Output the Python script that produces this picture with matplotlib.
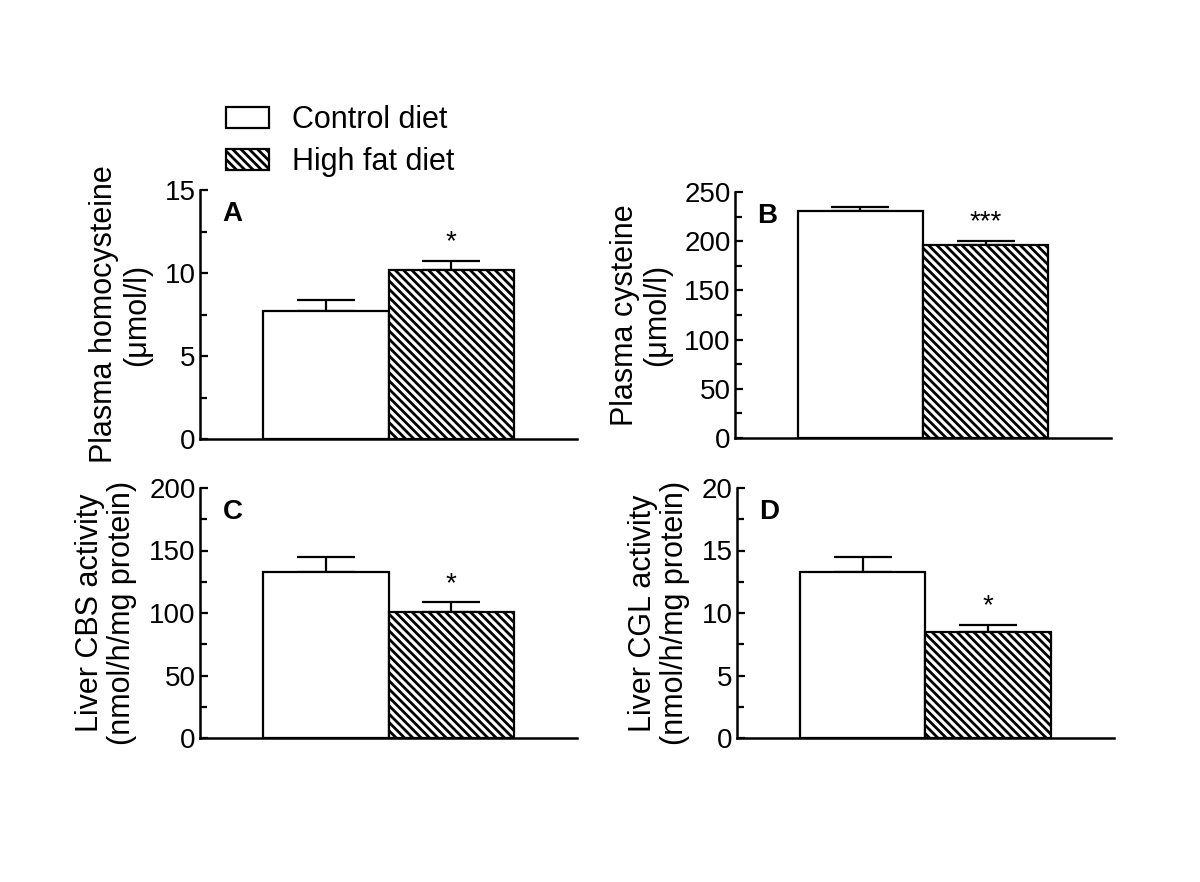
import matplotlib
matplotlib.use("Agg")
import matplotlib.pyplot as plt
import numpy as np

plt.rcParams['font.family'] = ['Liberation Sans', 'DejaVu Sans']
plt.rcParams['hatch.linewidth'] = 2.0

groups = ["Control diet", "High fat diet"]

# panel data: means, SEM, significance mark
hcy_mean = [7.7, 10.18]
hcy_sem = [0.67, 0.54]
cys_mean = [230.7, 196.0]
cys_sem = [4.5, 4.5]
cbs_mean = [132.8, 101.0]
cbs_sem = [11.7, 7.5]
cgl_mean = [13.3, 8.45]
cgl_sem = [1.2, 0.62]

panels = [
    ("A", hcy_mean, hcy_sem, "*", 15, 5, "Plasma homocysteine\n(\u03bcmol/l)"),
    ("B", cys_mean, cys_sem, "***", 250, 50, "Plasma cysteine\n(\u03bcmol/l)"),
    ("C", cbs_mean, cbs_sem, "*", 200, 50, "Liver CBS activity\n(nmol/h/mg protein)"),
    ("D", cgl_mean, cgl_sem, "*", 20, 5, "Liver CGL activity\n(nmol/h/mg protein)"),
]

# axes rectangles in figure fractions (left, bottom, width, height)
rects = [
    (200/1200, 1-439/882, 377/1200, 249/882),
    (735/1200, 1-438/882, 376/1200, 246/882),
    (200/1200, 1-738/882, 377/1200, 250/882),
    (737/1200, 1-738/882, 377/1200, 250/882),
]
# where the y label block ends (axes fraction)
label_x = [-0.128, -0.168, -0.167, -0.125]

fig = plt.figure(figsize=(12, 8.82), dpi=100)

handles = None
for (letter, mean, sem, star, ymax, step, ylabel), r, lx in zip(panels, rects, label_x):
    ax = fig.add_axes(r)
    x = np.array([1, 2])
    b1 = ax.bar(x[0], mean[0], width=1.0, color="white", edgecolor="black",
                linewidth=1.6, zorder=2)
    b2 = ax.bar(x[1], mean[1], width=1.0, color="white", edgecolor="black",
                hatch="\\\\\\\\", linewidth=1.6, zorder=2)
    if handles is None:
        handles = [b1, b2]
    for xi, m, s in zip(x, mean, sem):
        ax.errorbar(xi, m, yerr=[[0], [s]], fmt="none", ecolor="black",
                    elinewidth=1.6, capsize=21, capthick=1.6, zorder=1)
    ax.annotate(star, xy=(x[1], mean[1] + sem[1]), xytext=(0, 4),
                textcoords="offset points", ha="center", va="bottom",
                fontsize=20)
    ax.set_xlim(0, 3)
    ax.set_ylim(0, ymax)
    ax.set_yticks(np.arange(0, ymax + step / 2, step))
    ax.set_yticks(np.arange(step / 2, ymax, step), minor=True)
    ax.set_xticks([])
    for sp in ["top", "right"]:
        ax.spines[sp].set_visible(False)
    for sp in ["left", "bottom"]:
        ax.spines[sp].set_linewidth(1.8)
    ax.tick_params(axis="y", which="major", direction="in", length=6,
                   width=1.6, labelsize=20, pad=3)
    ax.tick_params(axis="y", which="minor", direction="in", length=5,
                   width=1.6)
    ax.set_ylabel(ylabel, fontsize=22, linespacing=1.1)
    ax.yaxis.set_label_coords(lx, 0.5)
    ax.text(0.06, 0.955, letter, transform=ax.transAxes, fontsize=20,
            fontweight="bold", ha="left", va="top")

fig.legend(handles, groups, loc="upper left", bbox_to_anchor=(226/1200, 1-105/882),
           frameon=False, fontsize=22, handlelength=1.4, handleheight=0.7,
           handletextpad=0.75, labelspacing=0.4, borderpad=0, borderaxespad=0)

fig.savefig("out.png", dpi=100)
